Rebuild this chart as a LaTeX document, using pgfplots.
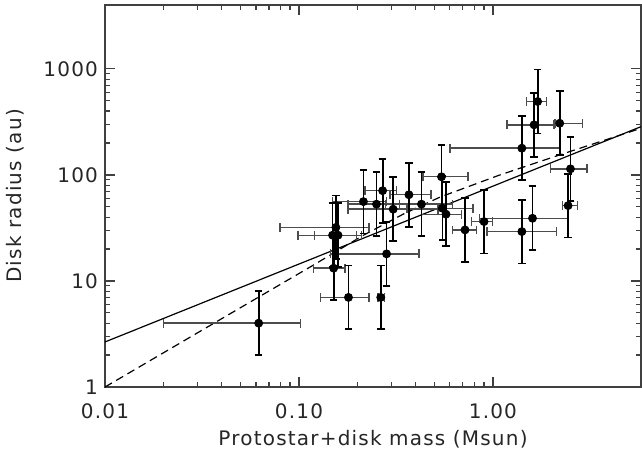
\documentclass[border=0pt]{standalone}
\usepackage{pgfplots}
\pgfplotsset{compat=1.18}
\usepackage{pgfplotstable}
\usepackage{fontspec}
\setmainfont{DejaVu Sans}[LetterSpace=6]

% x  y  xm  xp  ym  yp   (errors: minus / plus)
\pgfplotstableread{
x     y      xm     xp     ym      yp
0.062 4      0.042  0.040  2       4
0.151 13.2   0.032  0.022  6.6     13.2
0.180 7      0.051  0.050  3.5     7
0.264 7      0.009  0.013  3.5     7
0.283 18     0.138  0.133  9       18
0.155 32     0.075  0.075  16      32
0.149 27     0.050  0.049  13.5    27
0.159 27     0.039  0.051  13.5    27
0.215 56     0.066  0.068  28      56
0.270 71     0.051  0.048  35.5    71
0.251 53     0.072  0.079  26.5    53
0.306 47.5   0.127  0.214  23.75   47.5
0.369 65     0.075  0.110  32.5    65
0.428 53     0.148  0.192  26.5    53
0.543 96     0.107  0.202  48      96
0.549 48.5   0.189  0.241  24.25   48.5
0.573 42.6   0.145  0.115  21.3    42.6
0.718 30.3   0.098  0.104  15.15   30.3
0.900 36.3   0.124  0.095  18.15   36.3
1.41  178.6  0.81   0.80   89.3    178.6
1.63  296.5  0.45   0.43   148.25  296.5
1.70  492    0.21   0.19   246     492
2.21  307    0.12   0.69   153.5   307
2.51  114    0.53   0.55   57      114
2.44  51.3   0.16   0.29   25.65   51.3
1.60  39     0.75   0.84   19.5    39
1.41  29.2   0.48   0.72   14.6    29.2
}\datatable

\begin{document}
\begin{tikzpicture}
\begin{axis}[
  scale only axis,
  width=268pt, height=191pt,
  xmode=log, ymode=log,
  xmin=0.01, xmax=5.8,
  ymin=1, ymax=4000,
  axis line style={black!75, line width=0.6pt},
  every tick/.style={black!75, line width=0.6pt},
  tick align=inside,
  major tick length=5pt, minor tick length=2.5pt,
  xtick={0.01,0.1,1}, xticklabels={0.01,0.10,1.00},
  ytick={1,10,100,1000}, yticklabels={1,10,100,1000},
  xticklabel style={anchor=base, yshift=-15.5pt, font=\fontsize{10}{12}\selectfont, text=black!85},
  yticklabel style={font=\fontsize{10}{12}\selectfont, text=black!85},
  every axis x label/.style={at={([yshift=-29pt]axis description cs:0.5,0)}, anchor=base, font=\fontsize{10}{12}\selectfont, text=black!85},
  every axis y label/.style={at={([xshift=-45pt]axis description cs:0,0.5)}, anchor=center, rotate=90, font=\fontsize{10}{12}\selectfont, text=black!85},
  xlabel={Protostar+disk mass (Msun)},
  ylabel={Disk radius (au)},
]
% fit lines
\addplot[black, line width=0.6pt] coordinates {(0.01,2.66) (5.8,285)};
\addplot[black, line width=0.6pt, dash pattern=on 4pt off 2.5pt] coordinates {
  (0.01,1.0) (0.0441,4.9) (0.1186,14.1) (0.2143,26.9) (0.345,42.7)
  (0.533,61.7) (1.087,100) (2.49,166) (5.8,275)};
% x error bars
\addplot[only marks, mark=none,
  error bars/.cd, x dir=both, x explicit, error mark=|,
  error bar style={black!70, line width=0.7pt},
  error mark options={black!70, line width=0.7pt, mark size=2.2pt}]
  table[x=x, y=y, x error minus=xm, x error plus=xp] {\datatable};
% y error bars + points
\addplot[only marks, mark=*, mark size=1.7pt, black,
  error bars/.cd, y dir=both, y explicit, error mark=|,
  error bar style={black, line width=0.9pt},
  error mark options={black, line width=0.9pt, mark size=1.9pt}]
  table[x=x, y=y, y error minus=ym, y error plus=yp] {\datatable};
\end{axis}
\pgfresetboundingbox
\path ([xshift=-52.5pt,yshift=-33pt]current axis.south west) rectangle ([xshift=0.5pt,yshift=2.5pt]current axis.north east);
\end{tikzpicture}
\end{document}
